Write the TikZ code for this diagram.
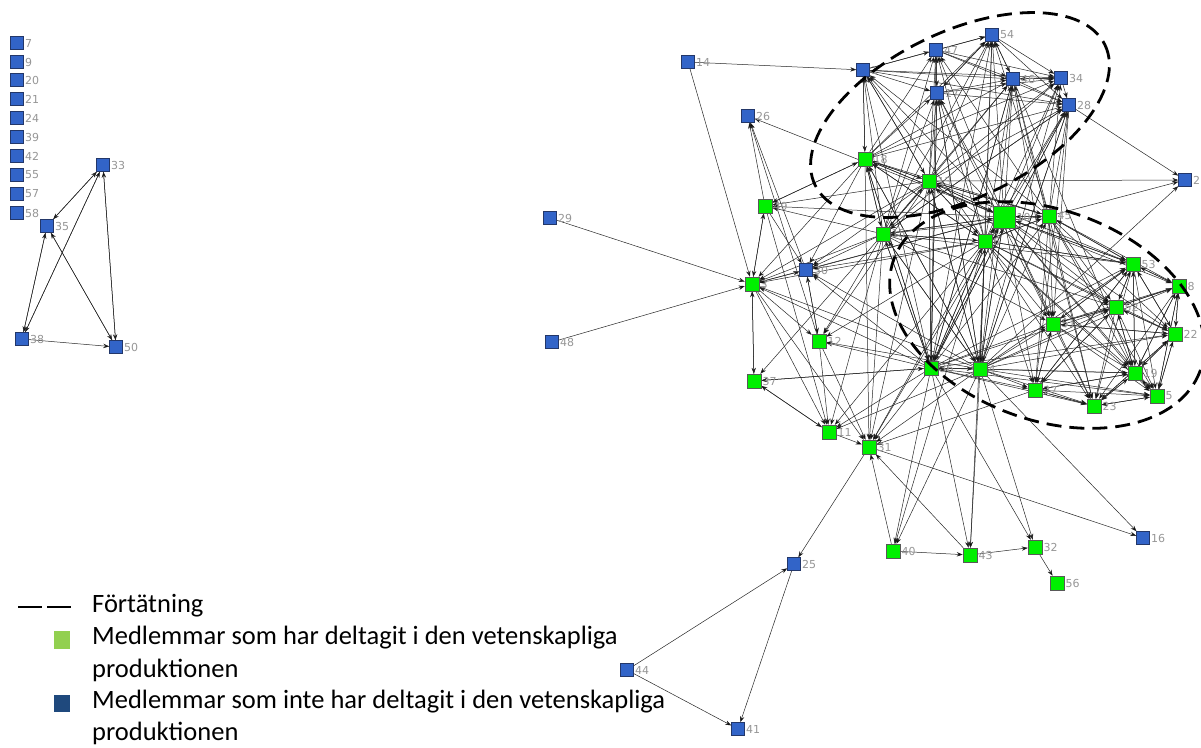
\documentclass[tikz,border=0pt]{standalone}
\usepackage{fontspec}
\setmainfont{Carlito}
\newfontfamily\lblfont{DejaVu Sans}
\usetikzlibrary{arrows.meta}

\pgfdeclarelayer{links}
\pgfsetlayers{links,main}
\tikzset{every picture/.style={line width=0.75pt}}
\definecolor{blnode}{RGB}{50,100,200}
\definecolor{grnode}{RGB}{0,240,0}
\definecolor{lblgray}{RGB}{150,150,150}
\definecolor{leggreen}{RGB}{146,208,80}
\definecolor{legblue}{RGB}{31,73,125}
\tikzset{
  nomem/.style={draw={rgb,255:red,35;green,55;blue,105}, fill=blnode, minimum size=13pt, inner sep=0pt, line width=0.5pt},
  mem/.style={draw=black!65, fill=grnode, minimum size=14pt, inner sep=0pt, line width=0.5pt},
  lbl/.style={text=lblgray, font=\lblfont\fontsize{11}{11}\selectfont, inner sep=1pt},
  lnk/.style={line width=0.5pt, draw=black!85, -{Stealth[length=6pt,width=4.4pt]}},
  fdash/.style={line width=2.8pt, dash pattern=on 15pt off 8pt},
  legtxt/.style={anchor=west, inner sep=0pt, font=\fontsize{26.5}{30}\selectfont},
}

\begin{document}
\begin{tikzpicture}[x=1pt,y=1pt,yscale=-1]
\useasboundingbox (0,0) rectangle (1201,747);

% Isolated members
\node[nomem,label={[lbl]right:7}] (n7) at (17,43) {};
\node[nomem,label={[lbl]right:9}] (n9) at (17,62) {};
\node[nomem,label={[lbl]right:20}] (n20) at (17,80) {};
\node[nomem,label={[lbl]right:21}] (n21) at (17,99) {};
\node[nomem,label={[lbl]right:24}] (n24) at (17,118) {};
\node[nomem,label={[lbl]right:39}] (n39) at (17,137) {};
\node[nomem,label={[lbl]right:42}] (n42) at (17,156) {};
\node[nomem,label={[lbl]right:55}] (n55) at (17,175) {};
\node[nomem,label={[lbl]right:57}] (n57) at (17,194) {};
\node[nomem,label={[lbl]right:58}] (n58) at (17,213) {};

% Small group
\node[nomem,label={[lbl]right:33}] (n33) at (103,165) {};
\node[nomem,label={[lbl]right:35}] (n35) at (47,226) {};
\node[nomem,label={[lbl]right:38}] (n38) at (22,339) {};
\node[nomem,label={[lbl]right:50}] (n50) at (116,347) {};

% Main network, upper part
\node[nomem,label={[lbl]right:14}] (n14) at (688,62) {};
\node[nomem,label={[lbl]right:1}] (n1) at (863,70) {};
\node[nomem,label={[lbl]right:47}] (n47) at (936,50) {};
\node[nomem,label={[lbl]right:54}] (n54) at (992,35) {};
\node[nomem,label={[lbl]right:46}] (n46) at (1013,79) {};
\node[nomem,label={[lbl]right:34}] (n34) at (1061,78) {};
\node[nomem,label={[lbl]right:17}] (n17) at (937,93) {};
\node[nomem,label={[lbl]right:28}] (n28) at (1069,105) {};
\node[nomem,label={[lbl]right:26}] (n26) at (748,116) {};
\node[mem,label={[lbl]right:18}] (n18) at (865,159) {};
\node[mem,label={[lbl]right:13}] (n13) at (929,181) {};
\node[nomem,label={[lbl]right:2}] (n2) at (1185,180) {};
\node[mem,label={[lbl]right:49}] (n49) at (765,206) {};
\node[mem,minimum size=22pt,label={[lbl]right:10}] (n10) at (1004,217) {};
\node[mem,label={[lbl]right:45}] (n45) at (1049,216) {};
\node[mem,label={[lbl]right:15}] (n15) at (883,234) {};
\node[mem,label={[lbl]right:6}] (n6) at (985,241) {};
\node[nomem,label={[lbl]right:29}] (n29) at (550,218) {};
\node[nomem,label={[lbl]right:30}] (n30) at (806,270) {};
\node[mem,label={[lbl]right:3}] (n3) at (752,284) {};

% Main network, right part
\node[mem,label={[lbl]right:53}] (n53) at (1133,264) {};
\node[mem,label={[lbl]right:8}] (n8) at (1179,286) {};
\node[mem,label={[lbl]right:52}] (n52) at (1116,307) {};
\node[mem,label={[lbl]right:51}] (n51) at (1053,324) {};
\node[mem,label={[lbl]right:22}] (n22) at (1175,334) {};
\node[mem,label={[lbl]right:19}] (n19) at (1135,373) {};
\node[mem,label={[lbl]right:27}] (n27) at (1035,390) {};
\node[mem,label={[lbl]right:5}] (n5) at (1157,396) {};
\node[mem,label={[lbl]right:23}] (n23) at (1094,406) {};
\node[mem,label={[lbl]right:36}] (n36) at (931,368) {};
\node[mem,label={[lbl]right:4}] (n4) at (980,369) {};

% Main network, lower part
\node[mem,label={[lbl]right:12}] (n12) at (819,341) {};
\node[nomem,label={[lbl]right:48}] (n48) at (552,342) {};
\node[mem,label={[lbl]right:37}] (n37) at (754,381) {};
\node[mem,label={[lbl]right:11}] (n11) at (829,432) {};
\node[mem,label={[lbl]right:31}] (n31) at (869,447) {};
\node[nomem,label={[lbl]right:16}] (n16) at (1143,538) {};
\node[mem,label={[lbl]right:40}] (n40) at (893,551) {};
\node[mem,label={[lbl]right:43}] (n43) at (970,555) {};
\node[mem,label={[lbl]right:32}] (n32) at (1035,547) {};
\node[mem,label={[lbl]right:56}] (n56) at (1057,583) {};
\node[nomem,label={[lbl]right:25}] (n25) at (794,564) {};
\node[nomem,label={[lbl]right:44}] (n44) at (627,670) {};
\node[nomem,label={[lbl]right:41}] (n41) at (738,729) {};

\begin{pgfonlayer}{links}
%Straight Lines, small group
\draw[lnk] (n35) edge (n33) edge (n38) edge (n50);
\draw[lnk] (n33) edge (n35) edge (n38) edge (n50);
\draw[lnk] (n38) edge (n35) edge (n50) edge (n33);
\draw[lnk] (n50) edge (n35) edge (n33);

%Straight Lines, upper group
\draw[lnk] (n1) edge (n47) edge (n54) edge (n46) edge (n34) edge (n17) edge (n28) edge (n13) edge (n18);
\draw[lnk] (n47) edge (n54) edge (n46) edge (n34) edge (n17) edge (n28);
\draw[lnk] (n54) edge (n46) edge (n34) edge (n28) edge (n17);
\draw[lnk] (n17) edge (n46) edge (n34) edge (n28) edge (n54) edge (n47);
\draw[lnk] (n46) edge (n34) edge (n28) edge (n54);
\draw[lnk] (n34) edge (n28) edge (n46);
\draw[lnk] (n18) edge (n1) edge (n13) edge (n47) edge (n54) edge (n46) edge (n34) edge (n17) edge (n28);
\draw[lnk] (n13) edge (n1) edge (n47) edge (n54) edge (n46) edge (n34) edge (n17) edge (n28) edge (n18);

%Straight Lines, core to upper group
\draw[lnk] (n10) edge (n1) edge (n47) edge (n54) edge (n46) edge (n34) edge (n17) edge (n28) edge (n18) edge (n13) edge (n45) edge (n6) edge (n15);
\draw[lnk] (n45) edge (n1) edge (n47) edge (n54) edge (n46) edge (n34) edge (n28) edge (n13) edge (n18) edge (n10) edge (n6) edge (n2);
\draw[lnk] (n6) edge (n1) edge (n47) edge (n54) edge (n46) edge (n34) edge (n17) edge (n28) edge (n13) edge (n18) edge (n10) edge (n45) edge (n15);
\draw[lnk] (n15) edge (n1) edge (n47) edge (n54) edge (n46) edge (n34) edge (n17) edge (n28) edge (n13) edge (n18) edge (n10) edge (n6) edge (n45);
\draw[lnk] (n36) edge (n1) edge (n47) edge (n54) edge (n46) edge (n17) edge (n28) edge (n13) edge (n18) edge (n10) edge (n45) edge (n6) edge (n15) edge (n4);
\draw[lnk] (n4) edge (n54) edge (n46) edge (n34) edge (n17) edge (n28) edge (n13) edge (n18) edge (n10) edge (n45) edge (n6) edge (n15) edge (n36);
\draw[lnk] (n28) edge (n2) edge (n51) edge (n27) edge (n4) edge (n36) edge (n15);
\draw[lnk] (n46) edge (n51) edge (n23) edge (n19) edge (n36);
\draw[lnk] (n17) edge (n51) edge (n36) edge (n4);

%Straight Lines, right group
\draw[lnk] (n53) edge (n8) edge (n52) edge (n51) edge (n22) edge (n19) edge (n5) edge (n23) edge (n27) edge (n10) edge (n45) edge (n6);
\draw[lnk] (n8) edge (n52) edge (n22) edge (n19) edge (n5) edge (n53) edge (n51) edge (n23);
\draw[lnk] (n52) edge (n51) edge (n22) edge (n19) edge (n5) edge (n23) edge (n27) edge (n53) edge (n8);
\draw[lnk] (n51) edge (n52) edge (n22) edge (n19) edge (n5) edge (n23) edge (n27) edge (n53);
\draw[lnk] (n22) edge (n19) edge (n5) edge (n52) edge (n53) edge (n8) edge (n23) edge (n51);
\draw[lnk] (n19) edge (n5) edge (n22) edge (n23) edge (n27) edge (n52) edge (n53) edge (n8);
\draw[lnk] (n5) edge (n19) edge (n22) edge (n23) edge (n8);
\draw[lnk] (n23) edge (n5) edge (n19) edge (n27) edge (n22);
\draw[lnk] (n27) edge (n23) edge (n5) edge (n19) edge (n52) edge (n51) edge (n53);

%Straight Lines, core to right group
\draw[lnk] (n10) edge (n53) edge (n8) edge (n52) edge (n51) edge (n22) edge (n19) edge (n5) edge (n23) edge (n27) edge (n4) edge (n36);
\draw[lnk] (n45) edge (n53) edge (n8) edge (n52) edge (n51) edge (n22) edge (n19) edge (n5) edge (n23) edge (n27);
\draw[lnk] (n6) edge (n53) edge (n52) edge (n51) edge (n22) edge (n19) edge (n5) edge (n23) edge (n27) edge (n4) edge (n36);
\draw[lnk] (n4) edge (n53) edge (n8) edge (n52) edge (n51) edge (n22) edge (n19) edge (n5) edge (n23) edge (n27);
\draw[lnk] (n36) edge (n53) edge (n52) edge (n51) edge (n22) edge (n19) edge (n27) edge (n23) edge (n5);
\draw[lnk] (n15) edge (n51) edge (n52) edge (n53) edge (n36) edge (n4);
\draw[lnk] (n13) edge (n53) edge (n52) edge (n45) edge (n10) edge (n6) edge (n15) edge (n4) edge (n36);
\draw[lnk] (n18) edge (n15) edge (n6) edge (n10) edge (n36) edge (n4);

%Straight Lines, left and lower members
\draw[lnk] (n3) edge (n49) edge (n30) edge (n12) edge (n37) edge (n11) edge (n31);
\draw[lnk] (n49) edge (n3) edge (n26) edge (n18) edge (n30) edge (n11);
\draw[lnk] (n18) edge (n3) edge (n49) edge (n30) edge (n31);
\draw[lnk] (n15) edge (n3) edge (n49) edge (n30) edge (n12) edge (n11) edge (n31) edge (n37);
\draw[lnk] (n13) edge (n3) edge (n49) edge (n12) edge (n30) edge (n31) edge (n2);
\draw[lnk] (n36) edge (n3) edge (n30) edge (n12) edge (n37) edge (n11) edge (n31) edge (n40) edge (n43) edge (n32);
\draw[lnk] (n4) edge (n3) edge (n30) edge (n12) edge (n31) edge (n11) edge (n40) edge (n43) edge (n32) edge (n16) edge (n2);
\draw[lnk] (n10) edge (n3) edge (n26) edge (n30) edge (n49) edge (n31);
\draw[lnk] (n6) edge (n3) edge (n30) edge (n12) edge (n11) edge (n31) edge (n40) edge (n43);
\draw[lnk] (n12) edge (n30) edge (n11) edge (n31) edge (n26);
\draw[lnk] (n30) edge (n12) edge (n26);
\draw[lnk] (n37) edge (n3) edge (n11) edge (n36);
\draw[lnk] (n11) edge (n37) edge (n31);
\draw[lnk] (n40) edge (n31) edge (n43);
\draw[lnk] (n43) edge (n32) edge (n31);
\draw[lnk] (n27) edge (n31);
\draw[lnk] (n32) edge (n56);
\draw[lnk] (n31) edge (n25) edge (n16);
\draw[lnk] (n14) edge (n1) edge (n3);
\draw[lnk] (n29) edge (n3);
\draw[lnk] (n48) edge (n3);
\draw[lnk] (n44) edge (n25) edge (n41);
\draw[lnk] (n25) edge (n41);
\end{pgfonlayer}

%Shape: Ellipse, dense groups
\draw[fdash, rotate around={-25.8:(960,115)}] (960,115) ellipse [x radius=161, y radius=83];
\draw[fdash, rotate around={20:(1047,315)}] (1047,315) ellipse [x radius=163, y radius=105];

% Legend
\draw[line width=2.8pt, dash pattern=on 24pt off 5pt] (18,607) -- (72,607);
\node[legtxt] (lg1) at (92,606) {Förtätning};
\fill[leggreen] (54,631) rectangle (70,649);
\node[legtxt] (lg2) at (92,638) {Medlemmar som har deltagit i den vetenskapliga};
\node[legtxt] (lg3) at (92,670) {produktionen};
\fill[legblue] (54,695) rectangle (70,712);
\node[legtxt] (lg4) at (92,702) {Medlemmar som inte har deltagit i den vetenskapliga};
\node[legtxt] (lg5) at (92,733) {produktionen};

\end{tikzpicture}
\end{document}
